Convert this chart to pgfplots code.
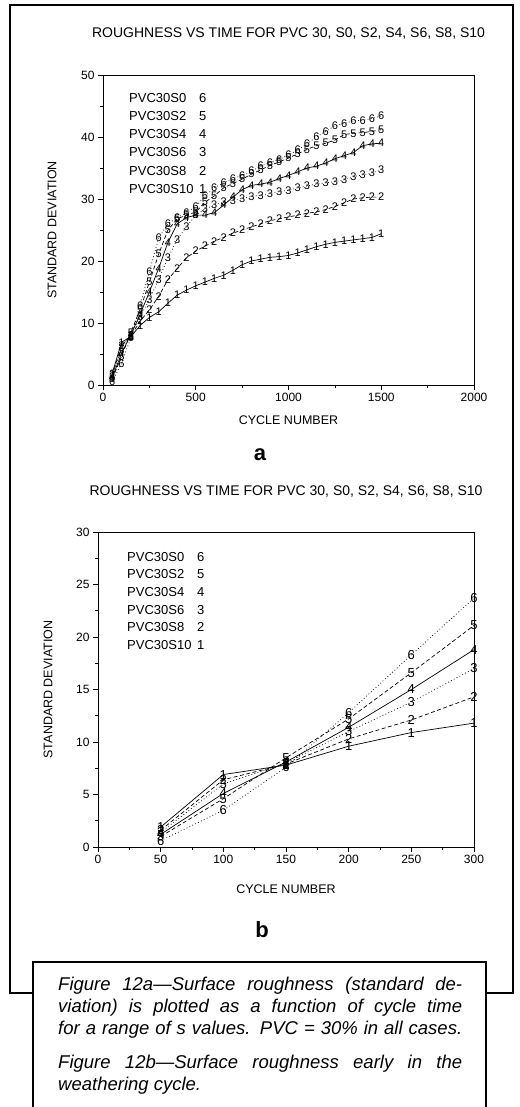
\documentclass[border=0pt]{standalone}
\usepackage{fontspec}
\setmainfont{Liberation Sans}
\usepackage{pgfplots}
\usepackage{pgfplotstable}
\pgfplotsset{compat=1.18}

\pgfplotstableread{
x    s1   s2   s3   s4   s5   s6
50   1.9  1.6  1.4  1.2  1.0  0.6
100  6.9  6.4  6.0  5.1  4.6  3.5
150  7.8  7.9  8.0  8.1  8.5  7.6
200  9.6  10.3 11.0 11.4 12.2 12.8
250  10.9 12.1 13.8 15.0 16.6 18.3
300  11.8 14.3 17.0 18.8 21.1 23.7
350  13.2 17.0 20.5 23.0 25.0 26.0
400  14.5 18.8 23.5 26.0 26.8 27.0
450  15.3 20.5 25.5 27.0 27.4 27.8
500  16.0 21.6 27.4 27.4 27.9 28.8
550  16.6 22.4 28.4 27.4 29.5 30.5
600  17.2 23.2 29.0 27.8 30.5 31.8
650  17.7 23.8 29.5 29.0 31.8 32.6
700  18.5 24.5 29.8 30.3 32.5 33.3
750  19.4 25.0 30.1 31.5 33.2 33.8
800  20.0 25.5 30.4 32.2 34.0 34.5
850  20.3 26.0 30.6 32.4 34.7 35.3
900  20.6 26.5 30.9 32.7 35.4 35.9
950  20.7 26.8 31.2 33.3 36.0 36.4
1000 20.9 27.1 31.4 33.8 36.6 37.1
1050 21.3 27.4 31.8 34.4 37.3 37.9
1100 21.8 27.7 32.1 35.0 38.0 38.9
1150 22.3 27.9 32.4 35.3 38.6 40.0
1200 22.7 28.3 32.6 35.8 39.0 40.9
1250 23.0 28.8 32.8 36.5 39.5 41.8
1300 23.2 29.4 33.1 37.0 40.4 42.2
1350 23.4 30.0 33.6 37.5 40.6 42.6
1400 23.6 30.2 33.9 38.6 40.7 42.7
1450 23.8 30.3 34.2 38.9 40.9 43.0
1500 24.4 30.3 34.7 39.0 41.2 43.4
}\dataA

\pgfplotstableread{
x    s1   s2   s3   s4   s5   s6
50   1.9  1.6  1.4  1.2  1.0  0.6
100  6.9  6.4  6.0  5.1  4.6  3.5
150  7.8  7.9  8.0  8.1  8.5  7.6
200  9.6  10.3 11.0 11.4 12.2 12.8
250  10.9 12.1 13.8 15.0 16.6 18.3
300  11.8 14.3 17.0 18.8 21.1 23.7
}\dataB

\pgfplotsset{
  panel/.style={
    scale only axis,
    axis line style={line width=0.7pt},
    tick style={line width=0.7pt, black},
    tick align=outside, tick pos=left,
    major tick length=5pt, minor tick length=3pt,
    minor x tick num=1, minor y tick num=1,
    tick label style={font=\fontsize{12}{14}\selectfont},
    label style={font=\fontsize{12.5}{14}\selectfont},
    title style={font=\fontsize{14}{16}\selectfont, anchor=center},
    /pgf/number format/assume math mode=true,
    /pgf/number format/set thousands separator={},
    every axis plot/.append style={line width=0.7pt, black},
  },
  sdot/.style={dash pattern=on 0.8pt off 2.4pt},
  sdash/.style={dash pattern=on 4pt off 2.5pt},
  tm/.style={mark=text, text mark={#1}, text mark as node=true, mark options={solid}},
}

\begin{document}
\begin{tikzpicture}
\useasboundingbox (0pt,0pt) rectangle (519pt,-1107pt);
\draw[line width=2pt] (10pt,-5pt) rectangle (513pt,-993pt);

% ---------------- panel a
\begin{axis}[panel,
  at={(103pt,-385pt)}, anchor=south west,
  width=371pt, height=310pt,
  xmin=0, xmax=2000, ymin=0, ymax=50,
  xtick={0,500,...,2000}, ytick={0,10,...,50},
  xlabel={CYCLE NUMBER}, ylabel={STANDARD DEVIATION},
  title={ROUGHNESS VS TIME FOR PVC 30, S0, S2, S4, S6, S8, S10},
  title style={at={(axis description cs:0.5,1.113)}},
  xlabel style={at={(axis description cs:0.5,-0.113)}, anchor=center},
  ylabel style={at={(axis description cs:-0.1375,0.5)}, anchor=center},
  text mark style={font=\fontsize{11}{11}\selectfont, inner sep=0pt},
]
\addplot[sdot, tm=6] table[x=x, y=s6] {\dataA};
\addplot[sdash, tm=5] table[x=x, y=s5] {\dataA};
\addplot[solid, tm=4] table[x=x, y=s4] {\dataA};
\addplot[sdot, tm=3] table[x=x, y=s3] {\dataA};
\addplot[sdash, tm=2] table[x=x, y=s2] {\dataA};
\addplot[solid, tm=1] table[x=x, y=s1] {\dataA};
\node[anchor=north west, inner sep=0pt, align=left, font=\fontsize{13}{18.2}\selectfont]
  at (axis description cs:0.0701,0.942) {PVC30S0\\PVC30S2\\PVC30S4\\PVC30S6\\PVC30S8\\PVC30S10};
\node[anchor=north west, inner sep=0pt, align=left, font=\fontsize{13}{18.2}\selectfont]
  at (axis description cs:0.2588,0.942) {6\\5\\4\\3\\2\\1};
\end{axis}

\node[font=\fontsize{22}{24}\selectfont\bfseries] at (260pt,-455pt) {a};

% ---------------- panel b
\begin{axis}[panel,
  at={(98pt,-847pt)}, anchor=south west,
  width=376pt, height=315pt,
  xmin=0, xmax=300, ymin=0, ymax=30,
  xtick={0,50,...,300}, ytick={0,5,...,30},
  xlabel={CYCLE NUMBER}, ylabel={STANDARD DEVIATION},
  title={ROUGHNESS VS TIME FOR PVC 30, S0, S2, S4, S6, S8, S10},
  title style={at={(axis description cs:0.5,1.108)}},
  xlabel style={at={(axis description cs:0.5,-0.133)}, anchor=center},
  ylabel style={at={(axis description cs:-0.133,0.5)}, anchor=center},
  text mark style={font=\fontsize{13}{13}\selectfont, inner sep=0pt},
]
\addplot[sdot, tm=6] table[x=x, y=s6] {\dataB};
\addplot[sdash, tm=5] table[x=x, y=s5] {\dataB};
\addplot[solid, tm=4] table[x=x, y=s4] {\dataB};
\addplot[sdot, tm=3] table[x=x, y=s3] {\dataB};
\addplot[sdash, tm=2] table[x=x, y=s2] {\dataB};
\addplot[solid, tm=1] table[x=x, y=s1] {\dataB};
\node[anchor=north west, inner sep=0pt, align=left, font=\fontsize{13}{17.6}\selectfont]
  at (axis description cs:0.0771,0.9365) {PVC30S0\\PVC30S2\\PVC30S4\\PVC30S6\\PVC30S8\\PVC30S10};
\node[anchor=north west, inner sep=0pt, align=left, font=\fontsize{13}{17.6}\selectfont]
  at (axis description cs:0.2633,0.9365) {6\\5\\4\\3\\2\\1};
\end{axis}

\node[font=\fontsize{22}{24}\selectfont\bfseries] at (262pt,-930pt) {b};

% ---------------- caption box
\draw[line width=2pt, fill=white] (33pt,-962pt) rectangle (486pt,-1130pt);
\node[anchor=north west, inner sep=0pt, text width=404pt, align=justify,
      font=\fontsize{18.5}{22}\selectfont\itshape] at (58pt,-977pt)
{\tolerance=10000\emergencystretch=0pt\setlength{\parskip}{12pt}%
{\parfillskip=0pt\relax Figure 12a—Surface roughness (standard de-\linebreak
viation) is plotted as a function of cycle time\linebreak
for a range of s values. PVC = 30\% in all cases.\par}%
Figure 12b—Surface roughness early in the\linebreak
weathering cycle.\par};
\end{tikzpicture}
\end{document}
